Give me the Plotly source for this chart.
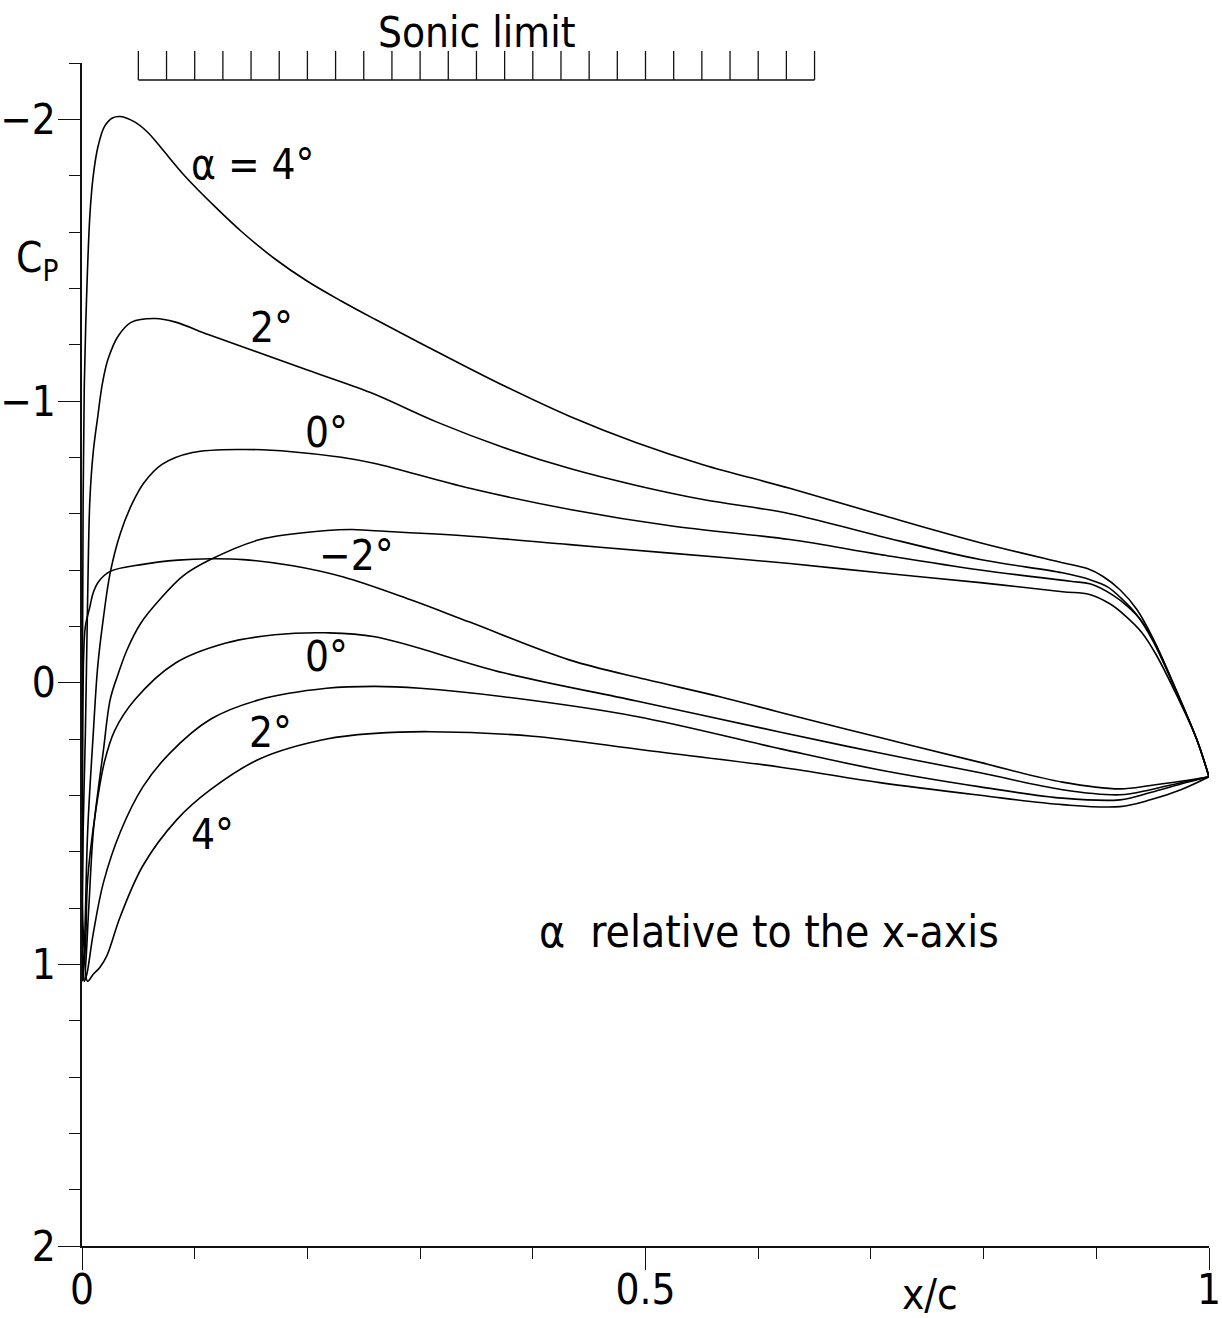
import plotly.graph_objects as go

FONT = "DejaVu Sans Condensed, DejaVu Sans, sans-serif"
INK = "#111111"

# ---- Pressure distributions Cp(x/c), upper and lower surface per angle of attack ----
# alpha = 4 deg
x_up_a4 = [0.0, 0.0004, 0.001, 0.002, 0.004, 0.007, 0.010, 0.014, 0.020, 0.027, 0.034, 0.047,
           0.058, 0.070, 0.091, 0.118, 0.142, 0.171, 0.200, 0.230, 0.260, 0.315, 0.374, 0.433,
           0.492, 0.551, 0.628, 0.708, 0.797, 0.870, 0.892, 0.906, 0.921, 0.936, 0.950, 0.972,
           0.989, 1.0]
cp_up_a4 = [0.75, 0.0, -0.65, -1.05, -1.36, -1.66, -1.80, -1.90, -1.975, -2.005, -2.01, -1.99,
            -1.955, -1.90, -1.80, -1.69, -1.60, -1.505, -1.425, -1.355, -1.29, -1.175, -1.055, -0.945,
            -0.852, -0.774, -0.69, -0.597, -0.497, -0.426, -0.405, -0.377, -0.33, -0.26, -0.16,
            0.036, 0.20, 0.334]
x_lo_a4 = [0.0, 0.002, 0.005, 0.010, 0.016, 0.022, 0.034, 0.054, 0.084, 0.114, 0.158, 0.217,
           0.260, 0.309, 0.40, 0.50, 0.62, 0.708, 0.797, 0.870, 0.921, 0.948, 0.975, 1.0]
cp_lo_a4 = [0.75, 0.95, 1.06, 1.035, 1.01, 0.97, 0.83, 0.65, 0.487, 0.38, 0.27, 0.20,
            0.18, 0.174, 0.19, 0.24, 0.30, 0.355, 0.40, 0.433, 0.44, 0.416, 0.38, 0.334]

# alpha = 2 deg
x_up_a2 = [0.0, 0.001, 0.003, 0.005, 0.007, 0.010, 0.014, 0.018, 0.023, 0.032, 0.044, 0.065,
           0.083, 0.112, 0.151, 0.200, 0.256, 0.315, 0.374, 0.433, 0.492, 0.551, 0.628, 0.708,
           0.797, 0.870, 0.894, 0.910, 0.922, 0.936, 0.950, 0.972, 0.989, 1.0]
cp_up_a2 = [0.95, 0.53, 0.18, -0.30, -0.65, -0.82, -0.945, -1.06, -1.147, -1.23, -1.28, -1.293,
            -1.28, -1.236, -1.18, -1.11, -1.03, -0.925, -0.835, -0.76, -0.70, -0.65, -0.60, -0.52,
            -0.437, -0.39, -0.366, -0.34, -0.30, -0.24, -0.15, 0.04, 0.20, 0.334]
x_lo_a2 = [0.0, 0.002, 0.004, 0.010, 0.019, 0.034, 0.054, 0.078, 0.114, 0.158, 0.217, 0.260,
           0.300, 0.374, 0.492, 0.62, 0.708, 0.797, 0.870, 0.921, 0.948, 0.975, 1.0]
cp_lo_a2 = [0.95, 1.06, 1.04, 0.89, 0.71, 0.53, 0.37, 0.25, 0.13, 0.06, 0.02, 0.013,
            0.02, 0.05, 0.12, 0.235, 0.31, 0.37, 0.41, 0.416, 0.39, 0.36, 0.334]

# alpha = 0 deg
x_up_a0 = [0.0, 0.002, 0.005, 0.010, 0.014, 0.019, 0.025, 0.034, 0.045, 0.055, 0.071, 0.098,
           0.142, 0.186, 0.230, 0.260, 0.344, 0.433, 0.522, 0.628, 0.708, 0.797, 0.877, 0.895,
           0.915, 0.928, 0.940, 0.952, 0.972, 0.989, 1.0]
cp_up_a0 = [1.06, 0.95, 0.53, 0.18, -0.06, -0.23, -0.39, -0.53, -0.64, -0.71, -0.775, -0.817,
            -0.828, -0.82, -0.80, -0.778, -0.69, -0.615, -0.557, -0.508, -0.455, -0.40, -0.36,
            -0.35, -0.31, -0.27, -0.22, -0.14, 0.04, 0.20, 0.334]
x_lo_a0 = [0.0, 0.003, 0.005, 0.012, 0.020, 0.029, 0.047, 0.083, 0.127, 0.171, 0.216, 0.260,
           0.374, 0.492, 0.619, 0.708, 0.797, 0.870, 0.921, 0.948, 0.975, 1.0]
cp_lo_a0 = [1.06, 0.94, 0.70, 0.46, 0.28, 0.17, 0.06, -0.07, -0.14, -0.17, -0.177, -0.163,
            -0.035, 0.065, 0.175, 0.25, 0.32, 0.38, 0.398, 0.38, 0.355, 0.334]

# alpha = -2 deg
x_up_m2 = [0.0, 0.002, 0.006, 0.010, 0.015, 0.019, 0.025, 0.032, 0.040, 0.052, 0.069, 0.090,
           0.114, 0.158, 0.217, 0.240, 0.256, 0.344, 0.433, 0.522, 0.628, 0.708, 0.797, 0.870,
           0.894, 0.912, 0.925, 0.940, 0.953, 0.972, 0.989, 1.0]
cp_up_m2 = [0.95, 1.06, 0.80, 0.53, 0.36, 0.24, 0.06, -0.03, -0.117, -0.21, -0.295, -0.38,
            -0.437, -0.508, -0.54, -0.544, -0.54, -0.52, -0.49, -0.46, -0.423, -0.39, -0.355,
            -0.323, -0.313, -0.28, -0.24, -0.18, -0.10, 0.05, 0.20, 0.334]
x_lo_m2 = [0.0, 0.0005, 0.0015, 0.003, 0.007, 0.010, 0.015, 0.025, 0.054, 0.085, 0.114, 0.143,
           0.187, 0.232, 0.291, 0.344, 0.433, 0.50, 0.566, 0.619, 0.708, 0.797, 0.870, 0.921,
           0.948, 0.975, 1.0]
cp_lo_m2 = [0.95, 0.30, -0.10, -0.20, -0.27, -0.32, -0.36, -0.395, -0.42, -0.435, -0.44, -0.437,
            -0.415, -0.375, -0.295, -0.215, -0.08, -0.012, 0.05, 0.105, 0.195, 0.283, 0.353, 0.377,
            0.365, 0.35, 0.334]

# ---- Sonic limit (critical Cp) bar ----
cp_sonic = -2.14
sonic_tick_x = [0.050, 0.075, 0.100, 0.125, 0.150, 0.175, 0.200, 0.225, 0.250, 0.275, 0.300,
                0.325, 0.350, 0.375, 0.400, 0.425, 0.450, 0.475, 0.500, 0.525, 0.550, 0.575,
                0.600, 0.625, 0.650]
sonic_tick_height = 0.103  # in Cp units

# ---- Curve labels ----
label_text = ["α = 4°", "2°", "0°", "−2°", "0°", "2°", "4°"]
label_x = [0.152, 0.168, 0.217, 0.244, 0.217, 0.167, 0.116]
label_cp = [-1.84, -1.26, -0.888, -0.451, -0.092, 0.178, 0.54]

curves = [
    (x_up_a4, cp_up_a4), (x_lo_a4, cp_lo_a4),
    (x_up_a2, cp_up_a2), (x_lo_a2, cp_lo_a2),
    (x_up_a0, cp_up_a0), (x_lo_a0, cp_lo_a0),
    (x_up_m2, cp_up_m2), (x_lo_m2, cp_lo_m2),
]

fig = go.Figure()
for xs, cps in curves:
    fig.add_trace(go.Scatter(
        x=xs, y=cps, mode="lines",
        line=dict(color="black", width=1.6, shape="spline", smoothing=1.0),
        hoverinfo="skip", showlegend=False,
    ))

# sonic limit base line and its comb of ticks
fig.add_trace(go.Scatter(
    x=[sonic_tick_x[0], sonic_tick_x[-1]], y=[cp_sonic, cp_sonic], mode="lines",
    line=dict(color=INK, width=1.5), hoverinfo="skip", showlegend=False,
))
fig.add_trace(go.Scatter(
    x=sonic_tick_x, y=[cp_sonic - sonic_tick_height / 2] * len(sonic_tick_x), mode="markers",
    marker=dict(symbol="line-ns", size=20.7, line=dict(color=INK, width=1.3)),
    cliponaxis=False, hoverinfo="skip", showlegend=False,
))

annotations = []
for t, x, y in zip(label_text, label_x, label_cp):
    annotations.append(dict(x=x, y=y, xref="x", yref="y", text=t, showarrow=False,
                            xanchor="center", yanchor="middle",
                            font=dict(family=FONT, size=42, color="black")))

annotations += [
    dict(x=0.610, y=0.885, xref="x", yref="y", text="α  relative to the x-axis",
         showarrow=False, xanchor="center", yanchor="middle",
         font=dict(family=FONT, size=44, color="black")),
    dict(x=0.35, y=1.0254, xref="x", yref="paper", text="Sonic limit",
         showarrow=False, xanchor="center", yanchor="middle",
         font=dict(family=FONT, size=42, color="black")),
    dict(x=-0.040, y=-1.50, xref="paper", yref="y", text="C<sub>P</sub>",
         showarrow=False, xanchor="center", yanchor="middle",
         font=dict(family=FONT, size=42, color="black")),
    dict(x=0.752, y=-0.0414, xref="x", yref="paper", text="x/c",
         showarrow=False, xanchor="center", yanchor="middle",
         font=dict(family=FONT, size=42, color="black")),
]

axis_common = dict(
    showline=True, linecolor=INK, linewidth=1.5,
    ticks="outside", ticklen=22, tickwidth=1.3, tickcolor=INK,
    showgrid=False, zeroline=False, automargin=False,
    tickfont=dict(family=FONT, size=42, color="black"),
)

fig.update_layout(
    width=1222, height=1318,
    margin=dict(l=82, r=13, t=63, b=72),
    paper_bgcolor="white", plot_bgcolor="white",
    showlegend=False,
    annotations=annotations,
    xaxis=dict(range=[0, 1], tick0=0, dtick=0.5, ticklabelstandoff=-16,
               minor=dict(ticks="outside", ticklen=11, tickwidth=1.3, tickcolor=INK,
                          tick0=0, dtick=0.1, showgrid=False),
               **axis_common),
    yaxis=dict(range=[2, -2.2], tick0=0, dtick=1, ticklabelstandoff=-6,
               minor=dict(ticks="outside", ticklen=11, tickwidth=1.3, tickcolor=INK,
                          tick0=0, dtick=0.2, showgrid=False),
               **axis_common),
)

fig.write_html("out.html")
